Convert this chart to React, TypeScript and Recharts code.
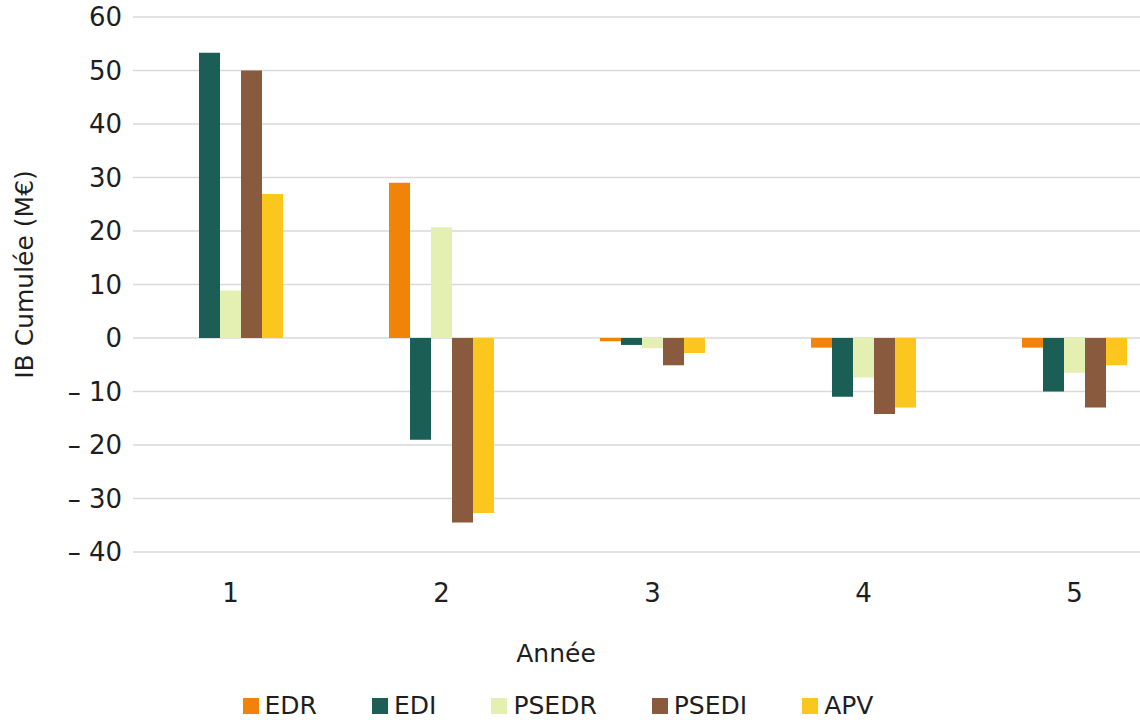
import React from 'react';
import { BarChart, Bar, XAxis, YAxis, CartesianGrid, Legend } from 'recharts';

const years = ['1', '2', '3', '4', '5'];
const edr = [0, 29, -0.6, -1.8, -1.8];
const edi = [53.3, -19, -1.3, -11, -10];
const psedr = [8.9, 20.7, -1.9, -7.4, -6.5];
const psedi = [50, -34.5, -5.1, -14.2, -13];
const apv = [26.9, -32.7, -2.8, -13, -5.1];
const yTicks = [-40, -30, -20, -10, 0, 10, 20, 30, 40, 50, 60];

const series = [
  { key: 'EDR', values: edr, color: '#F28309' },
  { key: 'EDI', values: edi, color: '#1A5E55' },
  { key: 'PSEDR', values: psedr, color: '#E4F0B1' },
  { key: 'PSEDI', values: psedi, color: '#8A5A3F' },
  { key: 'APV', values: apv, color: '#FBC61E' },
];

const data = years.map((y, i) => {
  const row: Record<string, any> = { year: y };
  series.forEach((s) => {
    row[s.key] = s.values[i];
  });
  return row;
});

const FONT = '"DejaVu Sans", "Open Sans", sans-serif';
const TEXT = '#1e1e1e';

const fmtY = (v: number) => (v < 0 ? `\u2013 ${Math.abs(v)}` : `${v}`);

const LegendContent = () => (
  <div
    style={{
      display: 'flex',
      justifyContent: 'center',
      gap: 55,
      fontFamily: FONT,
      fontSize: 25,
      color: TEXT,
      lineHeight: '28px',
    }}
  >
    {series.map((s) => (
      <div key={s.key} style={{ display: 'flex', alignItems: 'center' }}>
        <span
          style={{
            display: 'inline-block',
            width: 16,
            height: 16,
            background: s.color,
            marginRight: 6,
          }}
        />
        <span>{s.key}</span>
      </div>
    ))}
  </div>
);

const YLabel = (props: any) => {
  const vb = props.viewBox || {};
  const cy = (vb.y || 0) + (vb.height || 0) / 2 - 10;
  const cx = 24;
  return (
    <text
      x={cx}
      y={cy}
      transform={`rotate(-90, ${cx}, ${cy})`}
      textAnchor="middle"
      dominantBaseline="central"
      fontFamily={FONT}
      fontSize={25}
      fill={TEXT}
    >
      IB Cumulée (M€)
    </text>
  );
};

const XLabel = () => (
  <text
    x={556}
    y={653}
    textAnchor="middle"
    dominantBaseline="central"
    fontFamily={FONT}
    fontSize={25}
    fill={TEXT}
  >
    Année
  </text>
);

export default function App() {
  return (
    <div
      style={{
        position: 'fixed',
        left: 0,
        top: 0,
        width: 1140,
        height: 720,
        overflow: 'hidden',
        background: '#ffffff',
      }}
    >
      <BarChart
        width={1190}
        height={720}
        data={data}
        margin={{ top: 17, right: 10, bottom: 0, left: 0 }}
        barGap={0}
        barSize={21}
      >
        <CartesianGrid vertical={false} stroke="#d9d9d9" strokeWidth={1.5} />
        <XAxis
          dataKey="year"
          height={168}
          axisLine={false}
          tickLine={false}
          tickSize={0}
          tickMargin={32}
          padding={{ left: -8, right: 0 }}
          tick={{ fontFamily: FONT, fontSize: 26, fill: TEXT }}
          label={<XLabel />}
        />
        <YAxis
          width={133}
          domain={[-40, 60]}
          ticks={yTicks}
          interval={0}
          axisLine={false}
          tickLine={false}
          tickSize={0}
          tickMargin={11}
          tickFormatter={fmtY}
          tick={{ fontFamily: FONT, fontSize: 26, fill: TEXT }}
          label={<YLabel />}
        />
        <Legend
          verticalAlign="middle"
          layout="horizontal"
          content={<LegendContent />}
          wrapperStyle={{ top: 692, left: 0, width: 1116, height: 28 }}
        />
        {series.map((s) => (
          <Bar key={s.key} dataKey={s.key} fill={s.color} isAnimationActive={false} />
        ))}
      </BarChart>
    </div>
  );
}
